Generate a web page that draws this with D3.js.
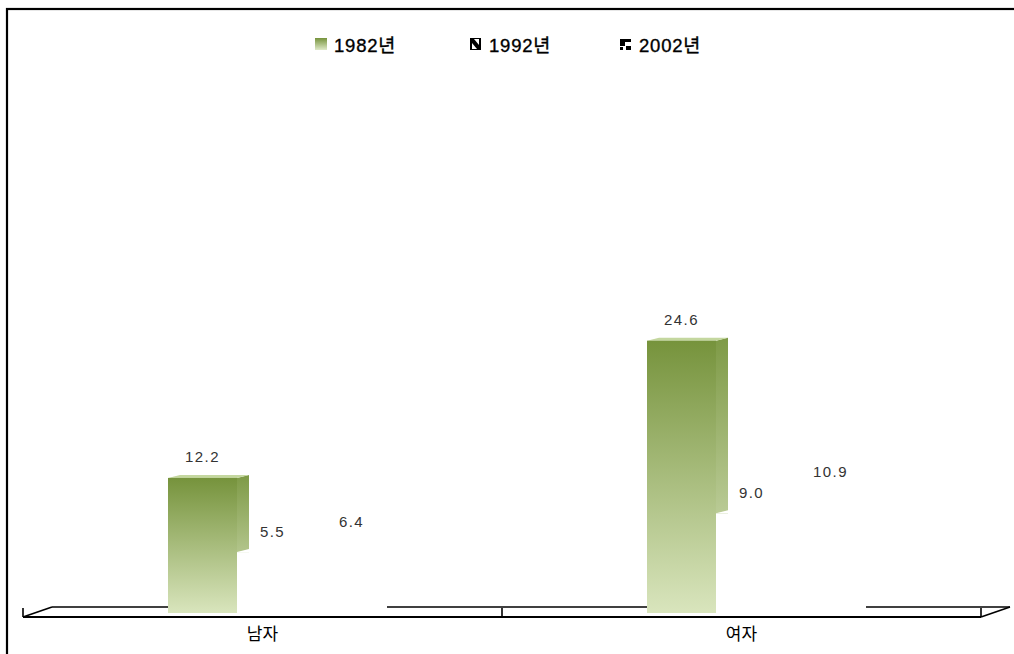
<!DOCTYPE html>
<html><head><meta charset="utf-8">
<script src="https://cdn.jsdelivr.net/npm/d3@7/dist/d3.min.js"></script>
<style>body{margin:0;background:#fff;}svg{display:block;}</style>
</head><body>
<svg id="c" width="1014" height="654"></svg>
<script>
const categories = ["남자", "여자"];
const seriesNames = ["1982년", "1992년", "2002년"];
const values1982 = [12.2, 24.6];
const values1992 = [5.5, 9.0];
const values2002 = [6.4, 10.9];
const seriesValues = [values1982, values1992, values2002];
const yTicks = [0, 10, 20, 30];

const svg = d3.select("#c");
const W = 1014, H = 654;
const font = "'Liberation Sans', Arial, sans-serif";
const kfont = "'Noto Sans CJK KR', 'Liberation Sans', sans-serif";
const legFont = "'Liberation Sans', 'Noto Sans CJK KR', sans-serif";

// geometry
const floorFront = 617, floorDX = 29, floorDY = 10;
const barBase = 613, barDX = 12, barDY = 3;
const barW = 69, groupShift = 9;

const x0 = d3.scaleBand().domain(categories).range([23, 981]).paddingInner(0).paddingOuter(0);
const x1 = d3.scaleBand().domain(seriesNames).range([0, barW * 3]);
const y = d3.scaleLinear().domain([0, d3.max(yTicks)]).range([barBase, barBase - 11.07 * d3.max(yTicks)]);

// outer border
svg.append("rect").attr("x", 7).attr("y", 9).attr("width", W + 10).attr("height", H + 10)
  .attr("fill", "none").attr("stroke", "#000").attr("stroke-width", 2.2);

const defs = svg.append("defs");
const gFront = defs.append("linearGradient").attr("id", "gFront").attr("x1", 0).attr("y1", 0).attr("x2", 0).attr("y2", 1);
gFront.append("stop").attr("offset", "0%").attr("stop-color", "#76933c");
gFront.append("stop").attr("offset", "100%").attr("stop-color", "#d9e5bd");
const gSide = defs.append("linearGradient").attr("id", "gSide").attr("x1", 0).attr("y1", 0).attr("x2", 0).attr("y2", 1);
gSide.append("stop").attr("offset", "0%").attr("stop-color", "#7e9a46");
gSide.append("stop").attr("offset", "100%").attr("stop-color", "#dbe6c2");
const gLeg = defs.append("linearGradient").attr("id", "gLeg").attr("x1", 0).attr("y1", 0).attr("x2", 0).attr("y2", 1);
gLeg.append("stop").attr("offset", "0%").attr("stop-color", "#76933c");
gLeg.append("stop").attr("offset", "100%").attr("stop-color", "#dfe9c8");

// floor
const [fx0, fx1] = x0.range();
const floor = svg.append("g").attr("stroke", "#000").attr("fill", "none").attr("stroke-width", 1.6);
floor.append("line").attr("x1", fx0 + floorDX).attr("x2", fx1 + floorDX).attr("y1", floorFront - floorDY).attr("y2", floorFront - floorDY);
floor.append("line").attr("x1", fx0).attr("x2", fx1).attr("y1", floorFront).attr("y2", floorFront).attr("stroke-width", 2);
floor.append("line").attr("x1", fx0).attr("x2", fx0 + floorDX).attr("y1", floorFront).attr("y2", floorFront - floorDY);
floor.append("line").attr("x1", fx1).attr("x2", fx1 + floorDX).attr("y1", floorFront).attr("y2", floorFront - floorDY);
const tickPos = [fx0].concat(categories.map(c => x0(c) + x0.bandwidth()));
floor.selectAll("line.tk").data(tickPos).join("line").attr("class", "tk")
  .attr("x1", d => d).attr("x2", d => d).attr("y1", floorFront - 9).attr("y2", floorFront);

// bars
const barsG = svg.append("g");
const labelDx = [0, 1, 11];
seriesNames.forEach((s, si) => {
  const green = si === 0;
  categories.forEach((c, ci) => {
    const v = seriesValues[si][ci];
    const left = x0(c) + x0.bandwidth() / 2 - (barW * 3) / 2 + groupShift + x1(s);
    const right = left + x1.bandwidth();
    const top = y(v), bot = y(0);
    const g = barsG.append("g");
    g.append("path").attr("d", d3.line()([[right, top], [right + barDX, top - barDY], [right + barDX, bot - barDY], [right, bot]]) + "Z")
      .attr("fill", green ? "url(#gSide)" : "#fff");
    g.append("path").attr("d", d3.line()([[left, top], [left + barDX, top - barDY], [right + barDX, top - barDY], [right, top]]) + "Z")
      .attr("fill", green ? "#c4d79f" : "#fff");
    g.append("rect").attr("x", left).attr("y", top).attr("width", right - left).attr("height", bot - top)
      .attr("fill", green ? "url(#gFront)" : "#fff");
  });
});

// labels
const labG = svg.append("g").attr("font-family", font).attr("font-size", 15).attr("fill", "#333")
  .attr("text-anchor", "middle").attr("letter-spacing", 1.4);
seriesNames.forEach((s, si) => {
  categories.forEach((c, ci) => {
    const v = seriesValues[si][ci];
    const left = x0(c) + x0.bandwidth() / 2 - (barW * 3) / 2 + groupShift + x1(s);
    labG.append("text").attr("x", left + x1.bandwidth() / 2 + labelDx[si]).attr("y", y(v) - 15.5)
      .text(d3.format(".1f")(v));
  });
});

// category axis labels
svg.append("g").selectAll("text").data(categories).join("text")
  .attr("x", d => x0(d) + x0.bandwidth() / 2).attr("y", 640)
  .attr("text-anchor", "middle").attr("font-family", kfont).attr("font-size", 17).attr("fill", "#000")
  .text(d => d);

// legend
const legX = [315, 470, 620];
const leg = svg.append("g");
seriesNames.forEach((s, i) => {
  const g = leg.append("g").attr("transform", `translate(${legX[i]},38)`);
  if (i === 0) {
    g.append("rect").attr("width", 12).attr("height", 12).attr("fill", "url(#gLeg)");
  } else if (i === 1) {
    g.append("rect").attr("width", 11).attr("height", 12).attr("fill", "#000");
    g.append("path").attr("d", "M4,1 L9,1 L9,7 Z").attr("fill", "#fff");
    g.append("path").attr("d", "M2,5 L2,11 L7,11 Z").attr("fill", "#fff");
  } else {
    g.append("rect").attr("y", 1).attr("width", 11).attr("height", 3).attr("fill", "#000");
    g.append("rect").attr("y", 4).attr("width", 5).attr("height", 4).attr("fill", "#000");
    g.append("rect").attr("x", 6).attr("y", 8).attr("width", 5).attr("height", 4).attr("fill", "#000");
    g.append("rect").attr("x", 0).attr("y", 9).attr("width", 3).attr("height", 3).attr("fill", "#000");
  }
  g.append("text").attr("x", 19).attr("y", 13.5).attr("font-family", legFont).attr("font-size", 18.5)
    .attr("letter-spacing", 0.8)
    .attr("fill", "#000").attr("stroke", "#000").attr("stroke-width", 0.35).text(s);
});
</script>
</body></html>
